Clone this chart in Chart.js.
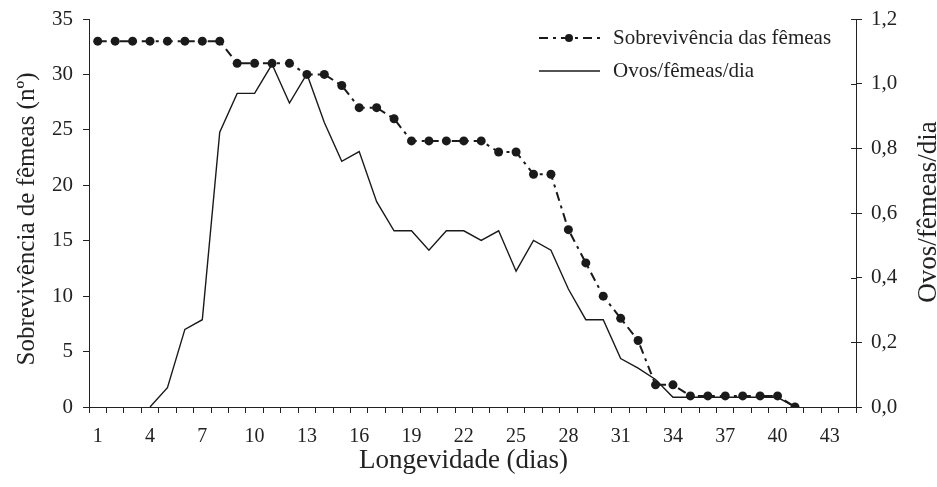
<!DOCTYPE html>
<html lang="pt">
<head>
    <meta charset="UTF-8">
    <title>Sobrevivência e oviposição</title>
    <script src="https://cdn.jsdelivr.net/npm/chart.js"></script>
    <style>
        html, body { margin: 0; padding: 0; background: #fff; }
        #wrap { width: 937px; height: 487px; }
    </style>
</head>
<body>
    <div id="wrap"><canvas id="survChart" width="937" height="487"></canvas></div>
    <script>
        // dias de longevidade (eixo x)
        const days = ['1','2','3','4','5','6','7','8','9','10','11','12','13','14','15','16','17','18','19','20','21','22',
                      '23','24','25','26','27','28','29','30','31','32','33','34','35','36','37','38','39','40','41','42','43','44'];

        // sobrevivência das fêmeas (nº), eixo esquerdo
        const survival = [33,33,33,33,33,33,33,33,31,31,31,31,30,30,29,27,27,26,24,24,24,24,
                          24,23,23,21,21,16,13,10,8,6,2,2,1,1,1,1,1,1,0,null,null,null];

        // ovos/fêmeas/dia, eixo direito
        const eggs = [null,null,null,0,0.06,0.24,0.27,0.85,0.97,0.97,1.06,0.94,1.03,0.88,0.76,0.79,0.635,0.545,0.545,0.485,0.545,0.545,
                      0.515,0.545,0.42,0.515,0.485,0.365,0.27,0.27,0.15,0.12,0.085,0.03,0.03,0.03,0.03,0.03,0.03,0.03,0,null,null,null];

        const leftTicks = [0, 35, 5];      // min, max, step
        const rightTicks = [0, 1.2, 0.2];

        const serif = 'Liberation Serif, Times New Roman, serif';
        Chart.defaults.font.family = serif;
        Chart.defaults.color = '#222';

        function rotatedText(ctx, text, x, y, size, baseline) {
            ctx.save();
            ctx.translate(x, y);
            ctx.rotate(-Math.PI / 2);
            ctx.font = size + 'px ' + serif;
            ctx.textAlign = 'center';
            ctx.textBaseline = baseline;
            ctx.fillText(text, 0, 0);
            ctx.restore();
        }

        // legenda e títulos dos eixos desenhados à mão
        const extras = {
            id: 'extras',
            afterDraw(chart) {
                const ctx = chart.ctx;
                const ds = chart.data.datasets;
                ctx.save();
                // ticks do eixo direito atravessam a linha
                const y1 = chart.scales.y1;
                ctx.strokeStyle = '#222';
                ctx.lineWidth = 1;
                y1.ticks.forEach((t, i) => {
                    const yy = Math.round(y1.getPixelForTick(i)) + 0.5;
                    ctx.beginPath();
                    ctx.moveTo(y1.left - 5, yy);
                    ctx.lineTo(y1.left, yy);
                    ctx.stroke();
                });
                // legenda
                const rows = [{ d: ds[0], y: 38 }, { d: ds[1], y: 71 }];
                rows.forEach(r => {
                    ctx.strokeStyle = r.d.borderColor;
                    ctx.lineWidth = r.d.borderWidth;
                    ctx.setLineDash(r.d.borderDash || []);
                    ctx.beginPath();
                    ctx.moveTo(539, r.y);
                    ctx.lineTo(600, r.y);
                    ctx.stroke();
                    ctx.setLineDash([]);
                    if (r.d.pointRadius) {
                        ctx.fillStyle = r.d.pointBackgroundColor;
                        ctx.beginPath();
                        ctx.arc(569, r.y, 4, 0, Math.PI * 2);
                        ctx.fill();
                    }
                    ctx.fillStyle = '#222';
                    ctx.font = '21px ' + serif;
                    ctx.textBaseline = 'middle';
                    ctx.textAlign = 'left';
                    ctx.fillText(r.d.label, 613, r.y);
                });
                // títulos
                ctx.fillStyle = '#222';
                ctx.font = '27px ' + serif;
                ctx.textAlign = 'center';
                ctx.textBaseline = 'middle';
                ctx.fillText('Longevidade (dias)', 463.5, 461);
                rotatedText(ctx, 'Sobrevivência de fêmeas (nº)', 27, 219, 25, 'middle');
                rotatedText(ctx, 'Ovos/fêmeas/dia', 936, 212, 27, 'alphabetic');
                ctx.restore();
            }
        };

        const fitY = w => s => { s.width = w; s.paddingTop = 0; s.paddingBottom = 0; };

        const ctx = document.getElementById('survChart').getContext('2d');
        new Chart(ctx, {
            type: 'line',
            data: {
                labels: days,
                datasets: [{
                    label: 'Sobrevivência das fêmeas',
                    data: survival,
                    yAxisID: 'y',
                    borderColor: '#1a1a1a',
                    borderWidth: 2,
                    borderDash: [9, 5, 3, 5],
                    pointRadius: 4.5,
                    pointBackgroundColor: '#1a1a1a',
                    pointBorderWidth: 0,
                    tension: 0
                }, {
                    label: 'Ovos/fêmeas/dia',
                    data: eggs,
                    yAxisID: 'y1',
                    borderColor: '#1a1a1a',
                    borderWidth: 1.4,
                    pointRadius: 0,
                    tension: 0
                }]
            },
            options: {
                responsive: false,
                animation: false,
                layout: { padding: { top: 19, left: 0, right: 0, bottom: 0 } },
                plugins: { legend: { display: false }, tooltip: { enabled: false } },
                scales: {
                    x: {
                        type: 'category',
                        offset: true,
                        grid: { offset: true, drawOnChartArea: false, tickLength: 6, color: '#222' },
                        border: { display: true, color: '#222', width: 1 },
                        ticks: {
                            autoSkip: false,
                            maxRotation: 0,
                            padding: 12,
                            font: { size: 20 },
                            callback: (v, i) => (i % 3 === 0 ? days[i] : '')
                        },
                        afterFit: s => { s.height = 80; }
                    },
                    y: {
                        position: 'left',
                        min: leftTicks[0], max: leftTicks[1],
                        grid: { drawOnChartArea: false, tickLength: 6, color: '#222' },
                        border: { display: true, color: '#222', width: 1 },
                        ticks: { stepSize: leftTicks[2], padding: 10, font: { size: 21 } },
                        afterFit: fitY(89)
                    },
                    y1: {
                        position: 'right',
                        min: rightTicks[0], max: rightTicks[1],
                        grid: { drawOnChartArea: false, tickLength: 6, color: '#222' },
                        border: { display: true, color: '#222', width: 1 },
                        ticks: {
                            stepSize: rightTicks[2], padding: 9, font: { size: 21 },
                            callback: v => v.toFixed(1).replace('.', ',')
                        },
                        afterFit: fitY(81)
                    }
                }
            },
            plugins: [extras]
        });
    </script>
</body>
</html>
